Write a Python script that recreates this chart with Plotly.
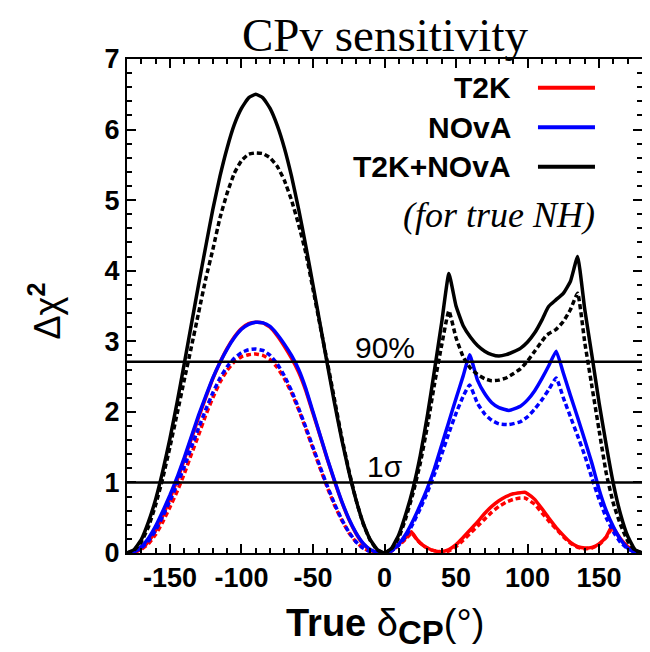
import plotly.graph_objects as go

# ---------------- data ----------------
neg_x = [-180, -175, -170, -165, -160, -155, -150, -145, -140, -135, -130, -125, -120,
         -115, -110, -105, -100, -95, -90, -85, -80, -75, -70, -65, -60, -55, -50,
         -45, -40, -35, -30, -25, -20, -15, -10, -5, 0]

t2k_neg = [0, 0.01, 0.06, 0.16, 0.32, 0.53, 0.77, 1.03, 1.32, 1.62, 1.92, 2.2, 2.47,
           2.7, 2.9, 3.06, 3.18, 3.25, 3.27, 3.26, 3.2, 3.08, 2.93, 2.76, 2.56, 2.3, 1.98,
           1.66, 1.33, 1.02, 0.73, 0.48, 0.28, 0.13, 0.04, 0.01, 0]
t2k_dash_neg = [0, 0.01, 0.05, 0.13, 0.26, 0.44, 0.65, 0.87, 1.12, 1.4, 1.67, 1.95, 2.2,
                2.42, 2.59, 2.71, 2.78, 2.81, 2.82, 2.8, 2.74, 2.63, 2.47, 2.27, 2.03, 1.76, 1.48,
                1.2, 0.93, 0.68, 0.47, 0.29, 0.16, 0.07, 0.02, 0.0, 0]
nova_neg = [0, 0.02, 0.09, 0.21, 0.38, 0.59, 0.82, 1.07, 1.35, 1.65, 1.95, 2.22, 2.48,
            2.7, 2.89, 3.05, 3.17, 3.24, 3.27, 3.26, 3.21, 3.1, 2.96, 2.8, 2.6, 2.33, 2.0,
            1.67, 1.34, 1.03, 0.74, 0.49, 0.29, 0.14, 0.05, 0.01, 0]
nova_dash_neg = [0, 0.02, 0.07, 0.17, 0.32, 0.52, 0.74, 0.97, 1.22, 1.5, 1.77, 2.03, 2.27,
                 2.48, 2.64, 2.76, 2.84, 2.88, 2.89, 2.87, 2.8, 2.68, 2.51, 2.3, 2.05, 1.78, 1.5,
                 1.22, 0.95, 0.7, 0.48, 0.3, 0.16, 0.07, 0.02, 0.0, 0]
comb_neg = [0, 0.05, 0.19, 0.44, 0.76, 1.16, 1.62, 2.13, 2.68, 3.24, 3.8, 4.34, 4.87,
            5.34, 5.74, 6.07, 6.3, 6.45, 6.5, 6.45, 6.3, 6.06, 5.74, 5.34, 4.87, 4.35, 3.8,
            3.24, 2.68, 2.13, 1.62, 1.16, 0.76, 0.43, 0.19, 0.05, 0]
comb_dash_neg = [0, 0.04, 0.16, 0.37, 0.68, 1.06, 1.5, 1.97, 2.45, 2.92, 3.4, 3.88, 4.3,
                 4.75, 5.1, 5.38, 5.56, 5.65, 5.67, 5.66, 5.6, 5.48, 5.28, 5.0, 4.65, 4.25, 3.74,
                 3.22, 2.71, 2.18, 1.65, 1.18, 0.76, 0.42, 0.18, 0.04, 0]

t2k_pos_x = [5, 10, 15, 18.7, 22, 25, 30, 35, 40, 45, 50, 55, 60, 65, 70, 75, 80, 85, 90,
             95, 98, 100, 105, 110, 115, 120, 125, 130, 135, 140, 145, 150, 155, 159, 162,
             165, 170, 175, 180]
t2k_pos = [0.04, 0.13, 0.22, 0.3, 0.21, 0.14, 0.07, 0.03, 0.02, 0.05, 0.12, 0.22, 0.33,
           0.44, 0.56, 0.66, 0.74, 0.8, 0.84, 0.855, 0.86, 0.84, 0.76, 0.63, 0.49, 0.36,
           0.25, 0.15, 0.09, 0.07, 0.08, 0.13, 0.23, 0.38, 0.29, 0.2, 0.09, 0.02, 0]

t2k_dash_pos_x = [5, 10, 15, 19, 23, 28, 33, 38, 42, 45, 50, 55, 60, 65, 70, 75, 80, 85, 90,
                  95, 98, 100, 105, 110, 115, 120, 125, 130, 135, 140, 145, 150, 155, 159, 162,
                  165, 170, 175, 180]
t2k_dash_pos = [0.03, 0.11, 0.2, 0.28, 0.18, 0.09, 0.04, 0.02, 0.01, 0.03, 0.09, 0.18, 0.28,
                0.38, 0.48, 0.58, 0.66, 0.72, 0.76, 0.78, 0.78, 0.76, 0.69, 0.57, 0.45, 0.34,
                0.23, 0.14, 0.08, 0.06, 0.07, 0.12, 0.22, 0.35, 0.27, 0.19, 0.08, 0.02, 0]

nova_pos_x = [5, 10, 15, 20, 25, 30, 35, 40, 45, 50, 55, 59.5, 65, 70, 75, 80, 87, 95, 100,
              105, 110, 115, 120, 125, 130, 135, 140, 145, 150, 155, 160, 165, 170, 175, 180]
nova_pos = [0.04, 0.13, 0.27, 0.46, 0.68, 0.92, 1.2, 1.53, 1.86, 2.19, 2.51, 2.81, 2.45,
            2.26, 2.13, 2.06, 2.02, 2.08, 2.17, 2.3, 2.47, 2.66, 2.86, 2.55, 2.23, 1.92, 1.6,
            1.27, 0.9, 0.6, 0.37, 0.19, 0.07, 0.01, 0]
nova_dash_pos = [0.03, 0.11, 0.24, 0.42, 0.63, 0.86, 1.12, 1.4, 1.7, 1.98, 2.22, 2.38, 2.12,
                 1.97, 1.88, 1.83, 1.82, 1.86, 1.93, 2.04, 2.17, 2.32, 2.48, 2.2, 1.93, 1.66,
                 1.38, 1.06, 0.76, 0.5, 0.3, 0.15, 0.06, 0.01, 0]

comb_pos_x = [5, 10, 15, 20, 25, 30, 35, 40, 45, 50, 55, 60, 65, 70, 75, 80, 85, 90, 95,
              100, 105, 110, 113, 115, 120, 125, 130, 135, 140, 145, 150, 155, 160, 165,
              170, 175, 180]
comb_pos = [0.07, 0.26, 0.56, 0.92, 1.38, 1.95, 2.6, 3.27, 3.96, 3.5, 3.22, 3.06, 2.94,
            2.86, 2.81, 2.79, 2.81, 2.85, 2.9, 2.99, 3.12, 3.3, 3.43, 3.5, 3.59, 3.68, 3.85,
            4.2, 3.45, 2.8, 2.13, 1.53, 0.98, 0.55, 0.24, 0.05, 0]
comb_dash_pos = [0.06, 0.22, 0.5, 0.85, 1.27, 1.8, 2.4, 2.95, 3.43, 3.05, 2.78, 2.62, 2.53,
                 2.47, 2.44, 2.45, 2.48, 2.54, 2.61, 2.72, 2.86, 3.0, 3.08, 3.11, 3.17, 3.28,
                 3.45, 3.68, 2.98, 2.36, 1.74, 1.13, 0.7, 0.4, 0.17, 0.04, 0]

thresholds = [1.0, 2.71]
threshold_labels = ["1σ", "90%"]
threshold_label_y = [1.22, 2.91]

x_tick_vals = [-150, -100, -50, 0, 50, 100, 150]
x_tick_text = ["-150", "-100", "-50", "0", "50", "100", "150"]
y_tick_vals = [0, 1, 2, 3, 4, 5, 6, 7]
y_tick_text = ["0", "1", "2", "3", "4", "5", "6", "7"]

legend_names = ["T2K", "NOvA", "T2K+NOvA"]
colors = ["#ff0000", "#0000ff", "#000000"]

# ---------------- figure ----------------
series = [
    (neg_x + t2k_pos_x, t2k_neg + t2k_pos, colors[0], "solid"),
    (neg_x + t2k_dash_pos_x, t2k_dash_neg + t2k_dash_pos, colors[0], "5px,3px"),
    (neg_x + nova_pos_x, nova_neg + nova_pos, colors[1], "solid"),
    (neg_x + nova_pos_x, nova_dash_neg + nova_dash_pos, colors[1], "5px,3px"),
    (neg_x + comb_pos_x, comb_neg + comb_pos, colors[2], "solid"),
    (neg_x + comb_pos_x, comb_dash_neg + comb_dash_pos, colors[2], "5px,3px"),
]

fig = go.Figure()
for xs, ys, c, d in series:
    fig.add_trace(go.Scatter(x=xs, y=ys, mode="lines",
                             line=dict(color=c, width=3.5, dash=d, shape="spline", smoothing=0.4),
                             showlegend=False, hoverinfo="skip"))

for t in thresholds:
    fig.add_shape(type="line", xref="paper", yref="y", x0=0, x1=1, y0=t, y1=t,
                  line=dict(color="black", width=2.5))

for lab, ly in zip(threshold_labels, threshold_label_y):
    fig.add_annotation(x=0, y=ly, xref="x", yref="y", text=lab, showarrow=False,
                       font=dict(family="Liberation Sans", size=30, color="black"))

# legend (text right-aligned, line samples to the right)
leg_y = [0.9419, 0.8617, 0.782]
for name, c, yy in zip(legend_names, colors, leg_y):
    fig.add_annotation(x=0.7495, y=yy, xref="paper", yref="paper", text=name,
                       showarrow=False, xanchor="right", yanchor="middle",
                       font=dict(family="Liberation Sans", size=30, color="black", weight="bold"))
    fig.add_shape(type="line", xref="paper", yref="paper", x0=0.798, x1=0.9087, y0=yy, y1=yy,
                  line=dict(color=c, width=4))

fig.add_annotation(x=0.9126, y=0.684, xref="paper", yref="paper", text="<i>(for true NH)</i>",
                   showarrow=False, xanchor="right", yanchor="middle",
                   font=dict(family="Liberation Serif", size=36, color="black"))

fig.add_annotation(x=0.5, y=1.049, xref="paper", yref="paper", text="CPv sensitivity",
                   showarrow=False, xanchor="center", yanchor="middle",
                   font=dict(family="Liberation Serif", size=47, color="black"))

fig.add_annotation(x=-0.16, y=0.49, xref="paper", yref="paper",
                   text="Δχ<sup><b>2</b></sup>", textangle=-90, showarrow=False,
                   xanchor="center", yanchor="middle",
                   font=dict(family="Liberation Sans", size=36, color="black"))

fig.add_annotation(x=0.5, y=-0.148, xref="paper", yref="paper",
                   text="<b>True</b> δ<sub><span style=\"font-size:33px\"><b>CP</b></span></sub>(°)",
                   showarrow=False, xanchor="center", yanchor="middle",
                   font=dict(family="Liberation Sans", size=38, color="black"))

axis_common = dict(showline=True, linecolor="black", linewidth=2, mirror="ticks",
                   ticks="inside", ticklen=9, tickwidth=2, tickcolor="black",
                   showgrid=False, zeroline=False,
                   tickfont=dict(family="Liberation Sans", size=27, color="black", weight="bold"))

fig.update_layout(
    width=650, height=652,
    margin=dict(l=119, r=16, t=51, b=107),
    paper_bgcolor="white", plot_bgcolor="white",
    showlegend=False,
    xaxis=dict(range=[-180, 180], tickmode="array", tickvals=x_tick_vals, ticktext=x_tick_text,
               minor=dict(tickmode="linear", tick0=0, dtick=10, ticks="inside", ticklen=5,
                          tickwidth=2, tickcolor="black"),
               **axis_common),
    yaxis=dict(range=[0, 7], tickmode="array", tickvals=y_tick_vals, ticktext=y_tick_text,
               minor=dict(tickmode="linear", tick0=0, dtick=0.2, ticks="inside", ticklen=5,
                          tickwidth=2, tickcolor="black"),
               **axis_common),
)

fig.write_html("out.html")
